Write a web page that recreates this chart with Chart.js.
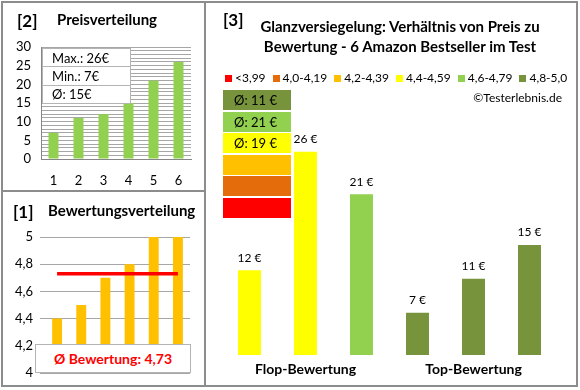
<!DOCTYPE html>
<html><head><meta charset="utf-8">
<script src="https://cdn.jsdelivr.net/npm/chart.js@4.4.1/dist/chart.umd.min.js"></script>
<style>
html,body{margin:0;padding:0;background:#fff;}
#wrap{position:relative;width:580px;height:390px;overflow:hidden;font-family:Lato,'Open Sans',sans-serif;color:#000;}
.a{position:absolute;white-space:nowrap;line-height:1;}
canvas{position:absolute;}
.b{font-weight:bold;}
.line{position:absolute;background:#8c8c8c;}
#info{position:absolute;left:42px;top:48px;width:87px;height:54px;border:1px solid #b4b4b4;background:#fff;display:flex;flex-direction:column;}
#info div{flex:1;display:flex;align-items:center;padding-left:9px;font-size:13px;border-bottom:1px solid #b4b4b4;}
#info div:last-child{border-bottom:none;}
#avgbox{position:absolute;left:35px;top:344px;width:154px;height:27px;border:1px solid #b4b4b4;background:#fff;display:flex;align-items:center;justify-content:center;color:#ff0000;font-weight:bold;font-size:14px;}
#legend{position:absolute;left:225px;top:71px;display:flex;font-size:12px;line-height:14px;white-space:nowrap;}
#legend .it{display:flex;align-items:center;margin-right:7px;flex-shrink:0;white-space:nowrap;}
#legend .sq{width:7px;height:7px;margin-right:3px;flex-shrink:0;}
.stack{position:absolute;left:223px;width:68px;height:20px;font-size:13px;display:flex;align-items:center;padding-left:0;}
.stack span{margin-left:11px;}
</style></head><body>
<div id="wrap">
 <canvas id="c2" width="205" height="191" style="left:0;top:0"></canvas>
 <canvas id="c1" width="205" height="197" style="left:0;top:191px"></canvas>
 <canvas id="c3" width="373" height="388" style="left:205px;top:0"></canvas>

 <div class="a b" style="left:17px;top:12px;font-size:17px">[2]</div>
 <div class="a b" style="left:57px;top:12px;font-size:15px">Preisverteilung</div>
 <div id="info"></div>

 <div class="a b" style="left:13px;top:203px;font-size:17px">[1]</div>
 <div class="a b" style="left:48px;top:203px;font-size:15px">Bewertungsverteilung</div>
 <div id="avgbox"></div>

 <div class="a b" style="left:223px;top:11px;font-size:17px">[3]</div>
 <div class="a b" id="title3" style="left:250px;width:300px;top:16px;font-size:15px;line-height:20px;text-align:center"></div>
 <div id="legend"></div>
 <div class="a" id="copy" style="right:18px;top:92px;font-size:12px"></div>
 <div id="stacks"></div>

 <div class="line" style="left:1px;top:1px;width:577px;height:2px"></div>
 <div class="line" style="left:1px;top:385px;width:577px;height:2px"></div>
 <div class="line" style="left:1px;top:1px;width:2px;height:386px"></div>
 <div class="line" style="left:576px;top:1px;width:2px;height:386px"></div>
 <div class="line" style="left:204px;top:1px;width:2px;height:386px"></div>
 <div class="line" style="left:1px;top:190px;width:204px;height:2px"></div>
</div>
<script>
// ---- data ----
const priceCategories = ['1','2','3','4','5','6'];
const prices = [7, 11, 12, 15, 21, 26];
const priceTicks = [0, 5, 10, 15, 20, 25, 30];
const priceMax = 26, priceMin = 7, priceAvg = 15;

const ratingCategories = ['1','2','3','4','5','6'];
const ratings = [4.4, 4.5, 4.7, 4.8, 5.0, 5.0];
const avgRating = 4.73;

const groupLabels = ['Flop-Bewertung', 'Top-Bewertung'];
const flopPrices = [12, 26, 21];
const topPrices = [7, 11, 15];
const flopColors = ['#FFFF00', '#FFFF00', '#92D050'];
const topColors = ['#77933C', '#77933C', '#77933C'];

const legendLabels = ['<3,99', '4,0-4,19', '4,2-4,39', '4,4-4,59', '4,6-4,79', '4,8-5,0'];
const legendColors = ['#FF0000', '#E46C0A', '#FFC000', '#FFFF00', '#92D050', '#77933C'];
const stackLabels = ['Ø: 11 €', 'Ø: 21 €', 'Ø: 19 €', '', '', ''];
const stackColors = ['#77933C', '#92D050', '#FFFF00', '#FFC000', '#E46C0A', '#FF0000'];
const title3 = ['Glanzversiegelung: Verhältnis von Preis zu', 'Bewertung - 6 Amazon Bestseller im Test'];
const copyright = '©Testerlebnis.de';

// ---- text ----
document.getElementById('info').innerHTML =
  `<div>Max.: ${priceMax}€</div><div>Min.: ${priceMin}€</div><div>Ø: ${priceAvg}€</div>`;
document.getElementById('avgbox').textContent = 'Ø Bewertung: ' + avgRating.toFixed(2).replace('.', ',');
document.getElementById('title3').innerHTML = title3.join('<br>');
document.getElementById('copy').textContent = copyright;
document.getElementById('legend').innerHTML = legendLabels.map((l, i) =>
  `<div class="it"><div class="sq" style="background:${legendColors[i]}"></div>${l.replace('<','&lt;')}</div>`).join('');
const stackTops = [90, 111.5, 133, 154.5, 176, 197.5];
document.getElementById('stacks').innerHTML = stackColors.map((c, i) =>
  `<div class="stack" style="top:${stackTops[i]}px;background:${c}"><span>${stackLabels[i]}</span></div>`).join('');

// ---- charts ----
Chart.defaults.font.family = "Lato, 'Open Sans', sans-serif";
Chart.defaults.color = '#000';
const base = {responsive:false, animation:false, events:[], devicePixelRatio:1,
  plugins:{legend:{display:false}, tooltip:{enabled:false}}};

new Chart(document.getElementById('c2'), {
  type:'bar',
  data:{labels:priceCategories, datasets:[{data:prices, backgroundColor:'#92D050', barPercentage:0.4, categoryPercentage:1}]},
  options:{...base,
    layout:{padding:{left:0, right:14, top:47, bottom:0}},
    scales:{
      x:{grid:{display:false, drawTicks:false}, border:{display:true, color:'#868686', width:1},
         ticks:{padding:14, font:{size:13}}, afterFit:s=>{s.height=32;}},
      y:{min:0, max:30,
         ticks:{stepSize:1, autoSkip:false, padding:10, font:{size:13},
                callback:v=>priceTicks.includes(v)?String(v):''},
         grid:{color:'#a6a6a6', drawTicks:false}, border:{color:'#868686', width:1},
         afterFit:s=>{s.width=41;}}
    }}
});

new Chart(document.getElementById('c1'), {
  type:'bar',
  data:{labels:ratingCategories, datasets:[
    {type:'line', data:ratingCategories.map(()=>avgRating), borderColor:'#FF0000', borderWidth:3.5, pointRadius:0, order:0},
    {type:'bar', data:ratings, backgroundColor:'#FFC000', barPercentage:0.41, categoryPercentage:1, order:1}
  ]},
  options:{...base,
    layout:{padding:{left:0, right:15, top:46, bottom:15}},
    scales:{
      x:{display:false},
      y:{min:4, max:5,
         ticks:{stepSize:0.2, padding:7, font:{size:13},
                callback:v=>String(Math.round(v*10)/10).replace('.', ',')},
         grid:{color:'#a6a6a6', tickLength:5}, border:{display:false},
         afterFit:s=>{s.width=45;}}
    }}
});

const valueLabels = {id:'valueLabels', afterDatasetsDraw(chart){
  const ctx = chart.ctx; ctx.save();
  ctx.font = "12px Lato, 'Open Sans', sans-serif"; ctx.fillStyle = '#000';
  ctx.textAlign = 'center'; ctx.textBaseline = 'alphabetic';
  chart.data.datasets.forEach((ds, i) => {
    chart.getDatasetMeta(i).data.forEach((bar, j) => {
      ctx.fillText(ds.data[j] + ' €', bar.x, bar.y - 8.5);
    });
  });
  ctx.restore();
}};

new Chart(document.getElementById('c3'), {
  type:'bar',
  data:{labels:groupLabels, datasets:[0,1,2].map(k => ({
    data:[flopPrices[k], topPrices[k]],
    backgroundColor:[flopColors[k], topColors[k]],
    barPercentage:0.41, categoryPercentage:1
  }))},
  options:{...base,
    layout:{padding:{left:16.5, right:20.5, top:118, bottom:0}},
    scales:{
      y:{display:false, min:2, max:30},
      x:{grid:{display:false, drawTicks:false}, border:{display:false},
         ticks:{padding:6, font:{size:14, weight:'bold'}}, afterFit:s=>{s.height=33;}}
    }},
  plugins:[valueLabels]
});
</script>
</body></html>
